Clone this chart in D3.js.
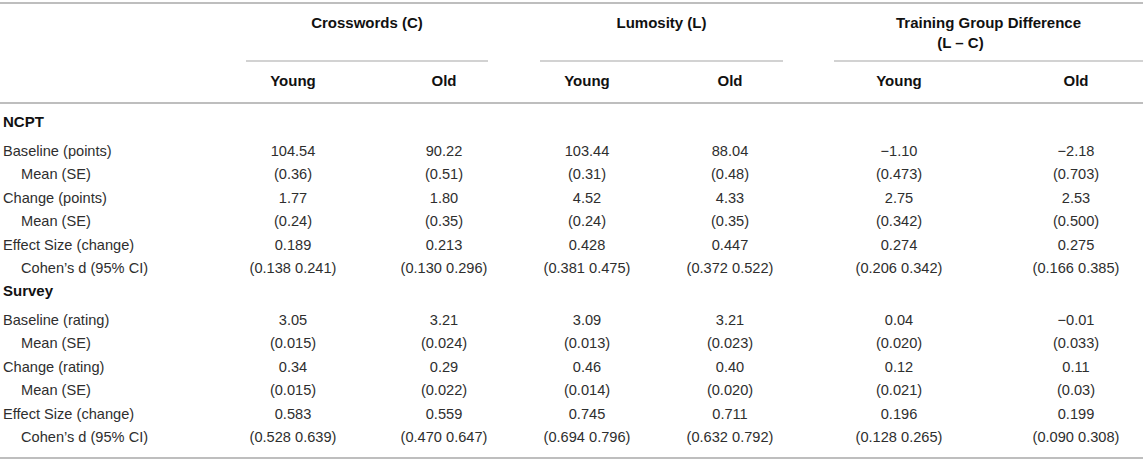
<!DOCTYPE html>
<html>
<head>
<meta charset="utf-8">
<script src="https://cdn.jsdelivr.net/npm/d3@7/dist/d3.min.js"></script>
<style>
  html, body { margin: 0; padding: 0; background: #fff; }
  svg { display: block; }
  text { font-family: "Liberation Sans", Arial, Helvetica, sans-serif; }
</style>
</head>
<body>
<svg id="tbl" width="1143" height="462"></svg>
<script>
// ---------- data ----------
const groups = ["Crosswords (C)", "Lumosity (L)", "Training Group Difference"];
const groupSub = ["", "", "(L \u2013 C)"];
const ages = ["Young", "Old"];
const sections = ["NCPT", "Survey"];

const ncptLabels = ["Baseline (points)", "Mean (SE)", "Change (points)", "Mean (SE)", "Effect Size (change)", "Cohen\u2019s d (95% CI)"];
const surveyLabels = ["Baseline (rating)", "Mean (SE)", "Change (rating)", "Mean (SE)", "Effect Size (change)", "Cohen\u2019s d (95% CI)"];
const labelIndent = [false, true, false, true, false, true];

const ncptBaseline   = ["104.54", "90.22", "103.44", "88.04", "\u22121.10", "\u22122.18"];
const ncptBaselineSE = ["(0.36)", "(0.51)", "(0.31)", "(0.48)", "(0.473)", "(0.703)"];
const ncptChange     = ["1.77", "1.80", "4.52", "4.33", "2.75", "2.53"];
const ncptChangeSE   = ["(0.24)", "(0.35)", "(0.24)", "(0.35)", "(0.342)", "(0.500)"];
const ncptEffect     = ["0.189", "0.213", "0.428", "0.447", "0.274", "0.275"];
const ncptEffectCI   = ["(0.138 0.241)", "(0.130 0.296)", "(0.381 0.475)", "(0.372 0.522)", "(0.206 0.342)", "(0.166 0.385)"];

const surveyBaseline   = ["3.05", "3.21", "3.09", "3.21", "0.04", "\u22120.01"];
const surveyBaselineSE = ["(0.015)", "(0.024)", "(0.013)", "(0.023)", "(0.020)", "(0.033)"];
const surveyChange     = ["0.34", "0.29", "0.46", "0.40", "0.12", "0.11"];
const surveyChangeSE   = ["(0.015)", "(0.022)", "(0.014)", "(0.020)", "(0.021)", "(0.03)"];
const surveyEffect     = ["0.583", "0.559", "0.745", "0.711", "0.196", "0.199"];
const surveyEffectCI   = ["(0.528 0.639)", "(0.470 0.647)", "(0.694 0.796)", "(0.632 0.792)", "(0.128 0.265)", "(0.090 0.308)"];

// ---------- layout ----------
const W = 1143, H = 462;
const svg = d3.select("#tbl");
const colKeys = [];
groups.forEach((g, gi) => ages.forEach(a => colKeys.push(gi + "-" + a)));

const groupSpan = d3.scaleOrdinal().domain(groups).range([[246, 488], [540, 783], [834, 1143]]);
const colX = d3.scaleOrdinal().domain(colKeys).range([293, 444, 587, 730, 899, 1076]);

const sectionData = [
  { name: sections[0], labels: ncptLabels,
    rows: [ncptBaseline, ncptBaselineSE, ncptChange, ncptChangeSE, ncptEffect, ncptEffectCI] },
  { name: sections[1], labels: surveyLabels,
    rows: [surveyBaseline, surveyBaselineSE, surveyChange, surveyChangeSE, surveyEffect, surveyEffectCI] }
];

const sectionTop = d3.scaleOrdinal().domain(sections).range([122, 291]);
// row offsets from section title (pairs tighter, gap between pairs)
const rowOffset = d3.scaleOrdinal().domain(d3.range(6)).range([28.5, 51.5, 75.5, 98.5, 122.5, 145.5]);

const ruleColor = "#a9a9a9";
const subRuleColor = "#d2d2d2";
const headColor = "#111";
const bodyColor = "#2e2e2e";
const fs = 14.6;
const hfs = 15;

// rules
svg.append("line").attr("x1", 0).attr("x2", W).attr("y1", 3).attr("y2", 3)
  .attr("stroke", ruleColor).attr("stroke-width", 1.6);
svg.append("line").attr("x1", 0).attr("x2", W).attr("y1", 103).attr("y2", 103)
  .attr("stroke", ruleColor).attr("stroke-width", 1.6);
svg.append("line").attr("x1", 0).attr("x2", W).attr("y1", 458).attr("y2", 458)
  .attr("stroke", ruleColor).attr("stroke-width", 1.6);

svg.selectAll("line.sub").data(groups).join("line").attr("class", "sub")
  .attr("x1", d => groupSpan(d)[0]).attr("x2", d => groupSpan(d)[1])
  .attr("y1", 61).attr("y2", 61)
  .attr("stroke", subRuleColor).attr("stroke-width", 1.8);

// group headers
svg.selectAll("text.grp").data(groups).join("text").attr("class", "grp")
  .attr("x", d => (groupSpan(d)[0] + groupSpan(d)[1]) / 2)
  .attr("y", 23).attr("dy", "0.35em")
  .attr("text-anchor", "middle").attr("font-weight", "bold")
  .attr("font-size", hfs).attr("fill", headColor)
  .text(d => d);

svg.selectAll("text.grpsub").data(groups.map((g, i) => ({ g, s: groupSub[i] })).filter(d => d.s))
  .join("text").attr("class", "grpsub")
  .attr("x", d => (groupSpan(d.g)[0] + groupSpan(d.g)[1]) / 2 - 28)
  .attr("y", 43).attr("dy", "0.35em")
  .attr("text-anchor", "middle").attr("font-weight", "bold")
  .attr("font-size", hfs).attr("fill", headColor)
  .text(d => d.s);

// age headers
svg.selectAll("text.age").data(colKeys).join("text").attr("class", "age")
  .attr("x", d => colX(d)).attr("y", 81).attr("dy", "0.35em")
  .attr("text-anchor", "middle").attr("font-weight", "bold")
  .attr("font-size", hfs).attr("fill", headColor)
  .text(d => d.split("-")[1]);

// body
sectionData.forEach(sec => {
  const y0 = sectionTop(sec.name);
  svg.append("text").attr("x", 3).attr("y", y0).attr("dy", "0.35em")
    .attr("font-weight", "bold").attr("font-size", hfs).attr("fill", headColor)
    .text(sec.name);

  sec.labels.forEach((lab, ri) => {
    const y = y0 + rowOffset(ri);
    svg.append("text").attr("x", labelIndent[ri] ? 21 : 3).attr("y", y).attr("dy", "0.35em")
      .attr("font-size", fs).attr("fill", bodyColor).text(lab);
    svg.selectAll(null).data(sec.rows[ri]).join("text")
      .attr("x", (d, ci) => colX(colKeys[ci])).attr("y", y).attr("dy", "0.35em")
      .attr("text-anchor", "middle").attr("font-size", fs).attr("fill", bodyColor)
      .text(d => d);
  });
});
</script>
</body>
</html>
